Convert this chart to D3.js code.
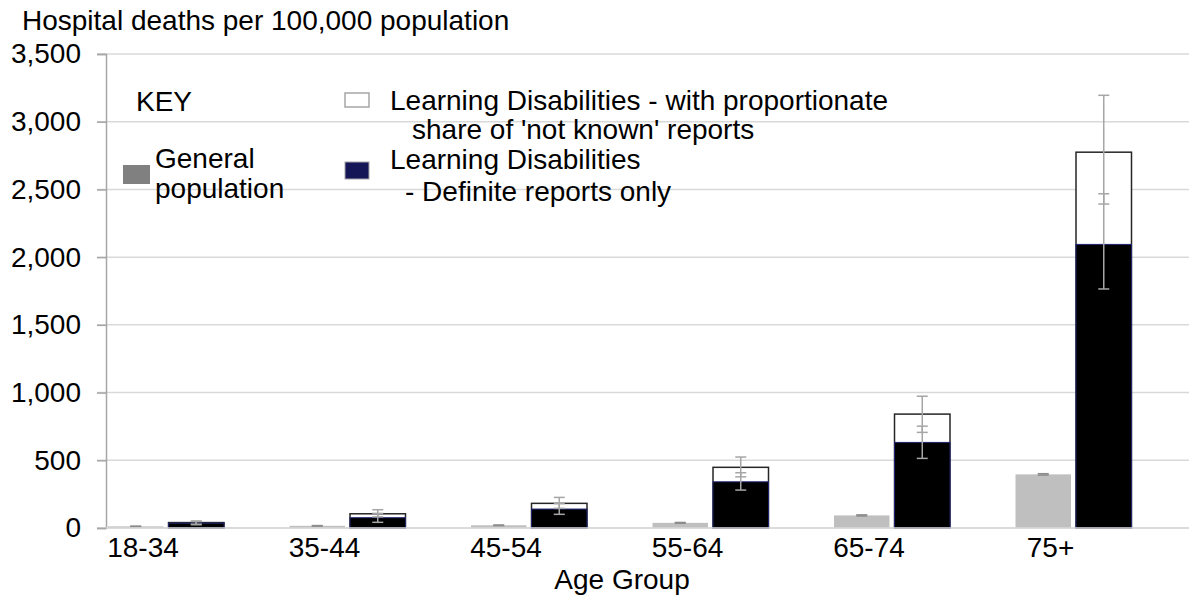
<!DOCTYPE html>
<html>
<head>
<meta charset="utf-8">
<script src="https://cdn.jsdelivr.net/npm/d3@7"></script>
<style>
  body { margin: 0; background: #fff; }
  text { font-family: "Liberation Sans", Arial, sans-serif; fill: #000; }
</style>
</head>
<body>
<div id="vis-svg"></div>
<script>
// values
var categories = ["18-34", "35-44", "45-54", "55-64", "65-74", "75+"];
var yTicks = [0, 500, 1000, 1500, 2000, 2500, 3000, 3500];

var general = [12, 16, 20, 38, 93, 396];
var generalLow = [10, 14, 18, 35, 89, 391];
var generalHigh = [14, 18, 22, 41, 97, 401];

var ldDefinite = [36, 76, 140, 341, 632, 2094];
var ldDefiniteLow = [24, 42, 101, 280, 514, 1765];
var ldDefiniteHigh = [48, 108, 180, 408, 752, 2468];

var ldTotal = [40, 105, 182, 448, 841, 2775];
var ldTotalLow = [28, 82, 145, 378, 706, 2392];
var ldTotalHigh = [52, 135, 226, 524, 973, 3195];

var width = 1189;
var height = 597;
var fs = "28px";

var svg = d3
  .select("#vis-svg")
  .append("svg")
  .attr("width", width)
  .attr("height", height);

var y = d3.scaleLinear().domain([0, 3500]).range([528, 54]);

var x0 = d3.scaleBand().domain(categories).range([75.25, 1164.25]);

var x1 = d3
  .scaleBand()
  .domain(["gen", "ld"])
  .range([32.75, 148.75])
  .paddingInner(0.083);

// gridlines
svg
  .append("g")
  .selectAll("line")
  .data(yTicks)
  .enter()
  .append("line")
  .attr("x1", 97)
  .attr("x2", width)
  .attr("y1", function(d) { return y(d); })
  .attr("y2", function(d) { return y(d); })
  .attr("stroke", "#d9d9d9")
  .attr("stroke-width", 1.5);

// y axis
var yAxis = d3
  .axisLeft(y)
  .tickValues(yTicks)
  .tickFormat(d3.format(","))
  .tickSize(9)
  .tickPadding(16);

var yg = svg
  .append("g")
  .attr("transform", "translate(106,0)")
  .call(yAxis);
yg.select(".domain").attr("stroke", "#a6a6a6").attr("stroke-width", 1.5);
yg.selectAll(".tick line").attr("stroke", "#a6a6a6").attr("stroke-width", 1.5);
yg.selectAll(".tick text")
  .style("font-size", fs)
  .style("font-family", "Liberation Sans, Arial, sans-serif")
  .attr("fill", "#000");

var groups = svg
  .selectAll(".grp")
  .data(categories)
  .enter()
  .append("g")
  .attr("class", "grp")
  .attr("transform", function(d) { return "translate(" + x0(d) + ",0)"; });

// general population bars
groups
  .append("rect")
  .attr("x", x1("gen"))
  .attr("width", x1.bandwidth())
  .attr("y", function(d, i) { return y(general[i]); })
  .attr("height", function(d, i) { return y(0) - y(general[i]); })
  .attr("fill", "#bfbfbf");

// LD total (with share of not known)
groups
  .append("rect")
  .attr("x", x1("ld"))
  .attr("width", x1.bandwidth())
  .attr("y", function(d, i) { return y(ldTotal[i]); })
  .attr("height", function(d, i) { return y(0) - y(ldTotal[i]); })
  .attr("fill", "#fff")
  .attr("stroke", "#262626")
  .attr("stroke-width", 1.5);

// LD definite
groups
  .append("rect")
  .attr("x", x1("ld"))
  .attr("width", x1.bandwidth())
  .attr("y", function(d, i) { return y(ldDefinite[i]); })
  .attr("height", function(d, i) { return y(0) - y(ldDefinite[i]); })
  .attr("fill", "#000")
  .attr("stroke", "#1f2370")
  .attr("stroke-width", 1);

function errorBars(key, lo, hi, colour) {
  var cx = x1(key) + x1.bandwidth() / 2;
  var eb = groups.append("g").attr("stroke", colour).attr("stroke-width", 1.5);
  eb.append("line")
    .attr("x1", cx).attr("x2", cx)
    .attr("y1", function(d, i) { return y(lo[i]); })
    .attr("y2", function(d, i) { return y(hi[i]); });
  eb.append("line")
    .attr("x1", cx - 5.5).attr("x2", cx + 5.5)
    .attr("y1", function(d, i) { return y(lo[i]); })
    .attr("y2", function(d, i) { return y(lo[i]); });
  eb.append("line")
    .attr("x1", cx - 5.5).attr("x2", cx + 5.5)
    .attr("y1", function(d, i) { return y(hi[i]); })
    .attr("y2", function(d, i) { return y(hi[i]); });
}

errorBars("gen", generalLow, generalHigh, "#8c8c8c");
errorBars("ld", ldDefiniteLow, ldDefiniteHigh, "#a6a6a6");
errorBars("ld", ldTotalLow, ldTotalHigh, "#a6a6a6");

// x baseline
svg
  .append("line")
  .attr("x1", 106)
  .attr("x2", width)
  .attr("y1", y(0))
  .attr("y2", y(0))
  .attr("stroke", "#d9d9d9")
  .attr("stroke-width", 1.5);

// category labels
groups
  .append("text")
  .attr("x", x0.bandwidth() / 2 - 23)
  .attr("y", 557)
  .attr("text-anchor", "middle")
  .style("font-size", fs)
  .text(function(d) { return d; });

svg
  .append("text")
  .attr("x", 622)
  .attr("y", 589)
  .attr("text-anchor", "middle")
  .style("font-size", fs)
  .text("Age Group");

svg
  .append("text")
  .attr("x", 22)
  .attr("y", 30)
  .style("font-size", fs)
  .text("Hospital deaths per 100,000 population");

// legend
var key = svg.append("g").attr("class", "key");

key.append("text").attr("x", 136).attr("y", 111).style("font-size", fs).text("KEY");

key.append("rect")
  .attr("x", 123).attr("y", 165).attr("width", 27).attr("height", 19)
  .attr("fill", "#808080");
key.append("text").attr("x", 155).attr("y", 168).style("font-size", fs).text("General");
key.append("text").attr("x", 155).attr("y", 198).style("font-size", fs).text("population");

key.append("rect")
  .attr("x", 345).attr("y", 93).attr("width", 24).attr("height", 14)
  .attr("fill", "#fff").attr("stroke", "#a6a6a6").attr("stroke-width", 1.5);
key.append("text").attr("x", 390).attr("y", 110).style("font-size", fs)
  .text("Learning Disabilities - with proportionate");
key.append("text").attr("x", 412).attr("y", 139).style("font-size", fs)
  .text("share of 'not known' reports");

key.append("rect")
  .attr("x", 345).attr("y", 162).attr("width", 24).attr("height", 17)
  .attr("fill", "#141658").attr("stroke", "#a6a6a6").attr("stroke-width", 1);
key.append("text").attr("x", 390).attr("y", 169).style("font-size", fs)
  .text("Learning Disabilities");
key.append("text").attr("x", 405).attr("y", 201).style("font-size", fs)
  .text("- Definite reports only");
</script>
</body>
</html>
